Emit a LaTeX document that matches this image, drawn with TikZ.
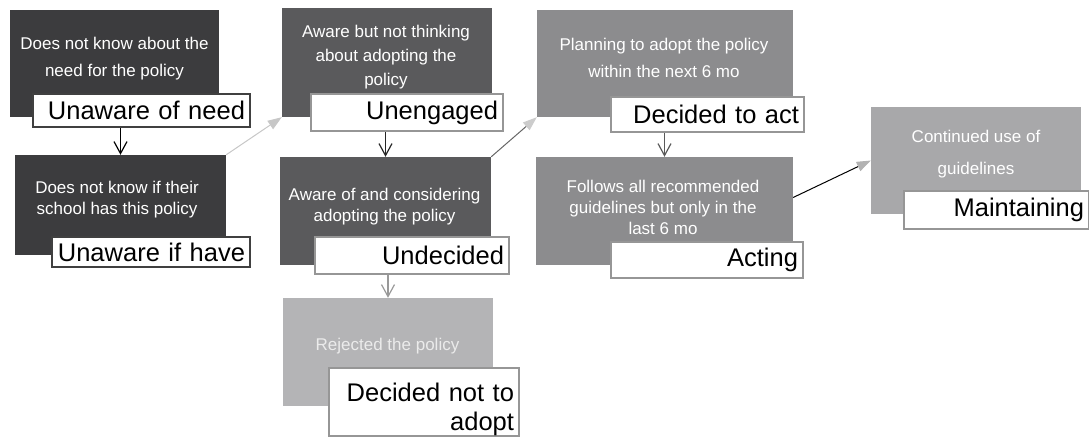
\documentclass[tikz,border=0pt]{standalone}
\usepackage{fontspec}
\setmainfont{Liberation Sans}
\usetikzlibrary{arrows.meta}

\definecolor{stagedark}{RGB}{60,60,62}
\definecolor{stagemid}{RGB}{90,90,92}
\definecolor{stagegray}{RGB}{140,140,142}
\definecolor{stagelight}{RGB}{180,180,182}
\definecolor{stagekeep}{RGB}{168,168,170}
\definecolor{tagdark}{RGB}{64,64,64}
\definecolor{taglight}{RGB}{150,150,150}

\begin{document}
\begin{tikzpicture}[x=1pt,y=-1pt,
    stage/.style={rectangle, inner sep=0pt},
    stagetext/.style={text=white, align=center, inner sep=0pt, anchor=north,
      font=\fontsize{17}{#1}\selectfont},
    stagetext/.default=21,
    tag/.style={rectangle, draw=taglight, fill=white, line width=1.5pt, align=right,
      inner xsep=5pt, inner ysep=0pt, font=\fontsize{25.5}{29}\selectfont},
    down/.style={line width=1.2pt, -{Straight Barb[length=12pt,width=13pt]}},
    across/.style={line width=1pt, -{Triangle[length=14pt,width=10pt,color=#1]}}]
  \useasboundingbox (0,0) rectangle (1089,439);

  % stage boxes
  \node[stage, fill=stagedark, minimum width=209pt, minimum height=107pt] (b1) at (114.5,63.5) {};
  \node[stage, fill=stagedark, minimum width=211pt, minimum height=100pt] (b2) at (120.5,205) {};
  \node[stage, fill=stagemid, minimum width=210pt, minimum height=109pt] (b3) at (387,62.5) {};
  \node[stage, fill=stagemid, minimum width=211pt, minimum height=108pt] (b4) at (385.5,211) {};
  \node[stage, fill=stagelight, minimum width=210pt, minimum height=108pt] (b5) at (388,352) {};
  \node[stage, fill=stagegray, minimum width=256pt, minimum height=107pt] (b6) at (665,63.5) {};
  \node[stage, fill=stagegray, minimum width=257pt, minimum height=108pt] (b7) at (664.5,211) {};
  \node[stage, fill=stagekeep, minimum width=210pt, minimum height=107pt] (b8) at (976,160.5) {};

  % stage names
  \node[tag, draw=tagdark, minimum width=217pt, minimum height=33pt, text width=207pt] (l1) at (141.5,110.5) {Unaware of need};
  \node[tag, draw=tagdark, minimum width=198pt, minimum height=30pt, text width=188pt] (l2) at (151,252) {Unaware if have};
  \node[tag, minimum width=192pt, minimum height=37pt, text width=182pt] (l3) at (407,112.5) {Unengaged};
  \node[tag, minimum width=194pt, minimum height=37pt, text width=184pt] (l4) at (412,255.5) {Undecided};
  \node[tag, minimum width=190pt, minimum height=68pt, text width=180pt] (l5) at (424,402) {\rule{0pt}{34pt}Decided not to\\adopt};
  \node[tag, minimum width=193pt, minimum height=35pt, text width=183pt] (l6) at (707.5,114.5) {Decided to act};
  \node[tag, minimum width=192pt, minimum height=36pt, text width=182pt] (l7) at (707,260) {Acting};
  \node[tag, minimum width=185pt, minimum height=38pt, text width=175pt] (l8) at (996.5,210) {Maintaining};

  % descriptions
  \node[stagetext=27] (t1) at (114.5,37) {Does not know about the\\need for the policy};
  \node[stagetext] (t2) at (117,181) {Does not know if their\\school has this policy};
  \node[stagetext=24] (t3) at (386,25) {Aware but not thinking\\about adopting the\\policy};
  \node[stagetext] (t4) at (384.5,188) {Aware of and considering\\adopting the policy};
  \node[stagetext, text=white!92!black] (t5) at (387.5,338) {Rejected the policy};
  \node[stagetext=27] (t6) at (664,38) {Planning to adopt the policy\\within the next 6 mo};
  \node[stagetext] (t7) at (663,180) {Follows all recommended\\guidelines but only in the\\last 6 mo};
  \node[stagetext=32] (t8) at (976,130) {Continued use of\\guidelines};

  % connectors
  \draw[down] (b2.north |- l1.south) -- (b2.north);
  \draw[down, black!85] (b4.north |- l3.south) -- (b4.north);
  \draw[down, black!40] (b5.north |- l4.south) -- (b5.north);
  \draw[down, black!65] (b7.north |- l6.south) -- (b7.north);
  \draw[across=black!22, black!22] (b2.north east) -- (b3.south west);
  \draw[across=black!20, black!60] (b4.north east) -- (b6.south west);
  \draw[across=black!30, black] (b7.6) -- (b8.west);
\end{tikzpicture}
\end{document}
